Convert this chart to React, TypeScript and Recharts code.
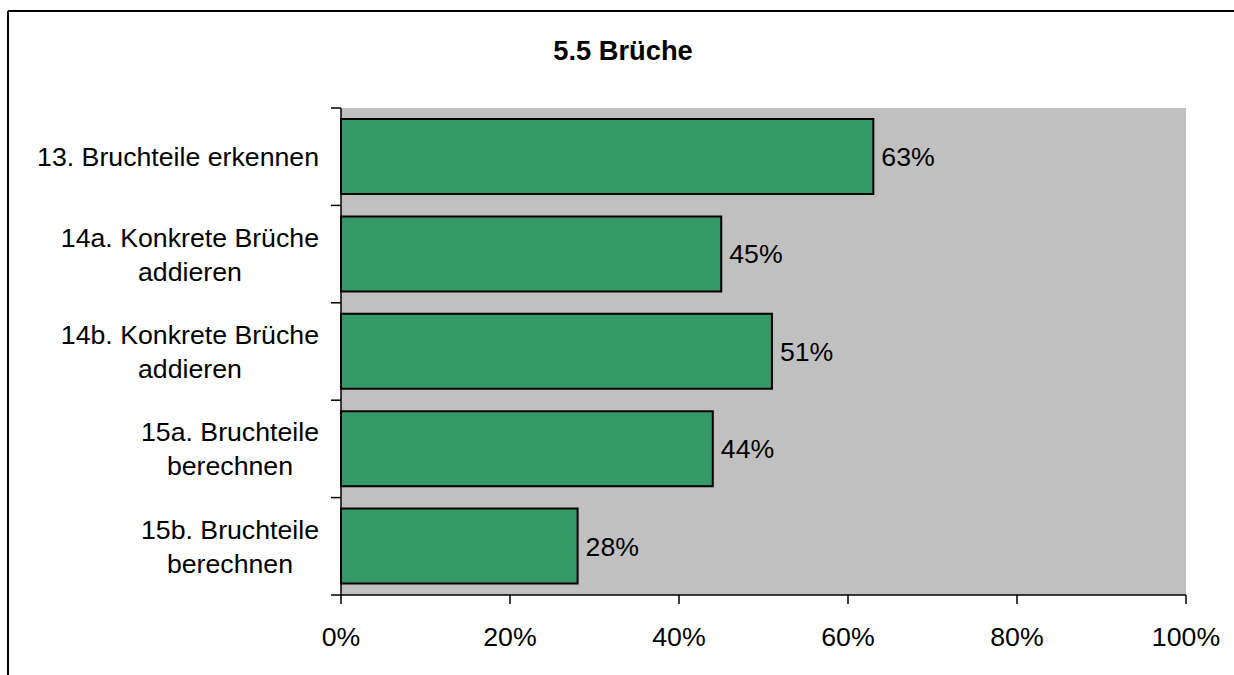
import React from "react";
import { BarChart, Bar, XAxis, YAxis, CartesianGrid, LabelList } from "recharts";

const categories = [
  "13. Bruchteile erkennen",
  "14a. Konkrete Brüche\naddieren",
  "14b. Konkrete Brüche\naddieren",
  "15a. Bruchteile\nberechnen",
  "15b. Bruchteile\nberechnen",
];
const values = [63, 45, 51, 44, 28];
const xTicks = [0, 20, 40, 60, 80, 100];
const title = "5.5 Brüche";

const data = categories.map((name, i) => ({ name, value: values[i] }));

const FONT = '"Liberation Sans", Arial, sans-serif';
const FS = 26.7;
const W = 1234;
const H = 675;
const M_TOP = 108;
const M_RIGHT = 48;
const Y_W = 341;
const X_H = 80;
const BAND = (H - M_TOP - X_H) / categories.length;

let ctx: CanvasRenderingContext2D | null = null;
function measure(t: string): number {
  if (!ctx) {
    const c = document.createElement("canvas");
    ctx = c.getContext("2d");
  }
  if (!ctx) return t.length * FS * 0.5;
  ctx.font = `${FS}px "Liberation Sans", Arial, sans-serif`;
  return ctx.measureText(t).width;
}

const YTick = (props: any) => {
  const { x, y, payload, index } = props;
  const lines = String(payload.value).split("\n");
  const widths = lines.map(measure);
  const maxW = Math.max(...widths);
  const right = x - 22;
  const cx = right - maxW / 2;
  const n = lines.length;
  const lh = 34;
  return (
    <g>
      <line x1={x - 10} x2={x} y1={y - BAND / 2} y2={y - BAND / 2} stroke="#000" strokeWidth={1.5} />
      {index === categories.length - 1 && (
        <line x1={x - 10} x2={x} y1={y + BAND / 2} y2={y + BAND / 2} stroke="#000" strokeWidth={1.5} />
      )}
      {lines.map((l, i) => (
        <text
          key={i}
          x={cx}
          y={y + (i - (n - 1) / 2) * lh + 9.5}
          textAnchor="middle"
          fontFamily={FONT}
          fontSize={FS}
          fill="#000"
        >
          {l}
        </text>
      ))}
    </g>
  );
};

export default function App() {
  return (
    <div style={{ position: "absolute", left: 0, top: 0, width: W, height: H, overflow: "hidden", background: "#fff" }}>
      <div style={{ position: "absolute", left: 0, top: 0 }}>
        <BarChart
          width={W}
          height={H}
          data={data}
          layout="vertical"
          margin={{ top: M_TOP, right: M_RIGHT, bottom: 0, left: 0 }}
          barCategoryGap={11}
        >
          <CartesianGrid fill="#c0c0c0" horizontal={false} vertical={false} stroke="none" />
          <XAxis
            type="number"
            domain={[0, 100]}
            ticks={xTicks}
            tickFormatter={(v: number) => `${v}%`}
            height={X_H}
            axisLine={{ stroke: "#000", strokeWidth: 1.5 }}
            tickLine={{ stroke: "#000", strokeWidth: 1.5 }}
            tickSize={9}
            tickMargin={23}
            tick={{ fill: "#000", fontFamily: FONT, fontSize: FS }}
            interval={0}
          />
          <YAxis
            type="category"
            dataKey="name"
            width={Y_W}
            axisLine={{ stroke: "#000", strokeWidth: 1.5 }}
            tickLine={false}
            tickSize={0}
            tickMargin={0}
            tick={<YTick />}
            interval={0}
          />
          <Bar dataKey="value" fill="#339966" stroke="#000" strokeWidth={2} isAnimationActive={false}>
            <LabelList
              dataKey="value"
              position="right"
              offset={8}
              formatter={(v: any) => `${v}%`}
              fill="#000"
              fontFamily={FONT}
              fontSize={FS}
            />
          </Bar>
        </BarChart>
      </div>
      <svg style={{ position: "absolute", left: 0, top: 0, pointerEvents: "none" }} width={W} height={H}>
        <line x1={8} y1={11} x2={W + 10} y2={11} stroke="#000" strokeWidth={2} />
        <line x1={8} y1={11} x2={8} y2={H + 10} stroke="#000" strokeWidth={2} />
        <text x={623} y={60} textAnchor="middle" fontFamily={FONT} fontSize={27.3} fontWeight="bold" fill="#000">
          {title}
        </text>
      </svg>
    </div>
  );
}
